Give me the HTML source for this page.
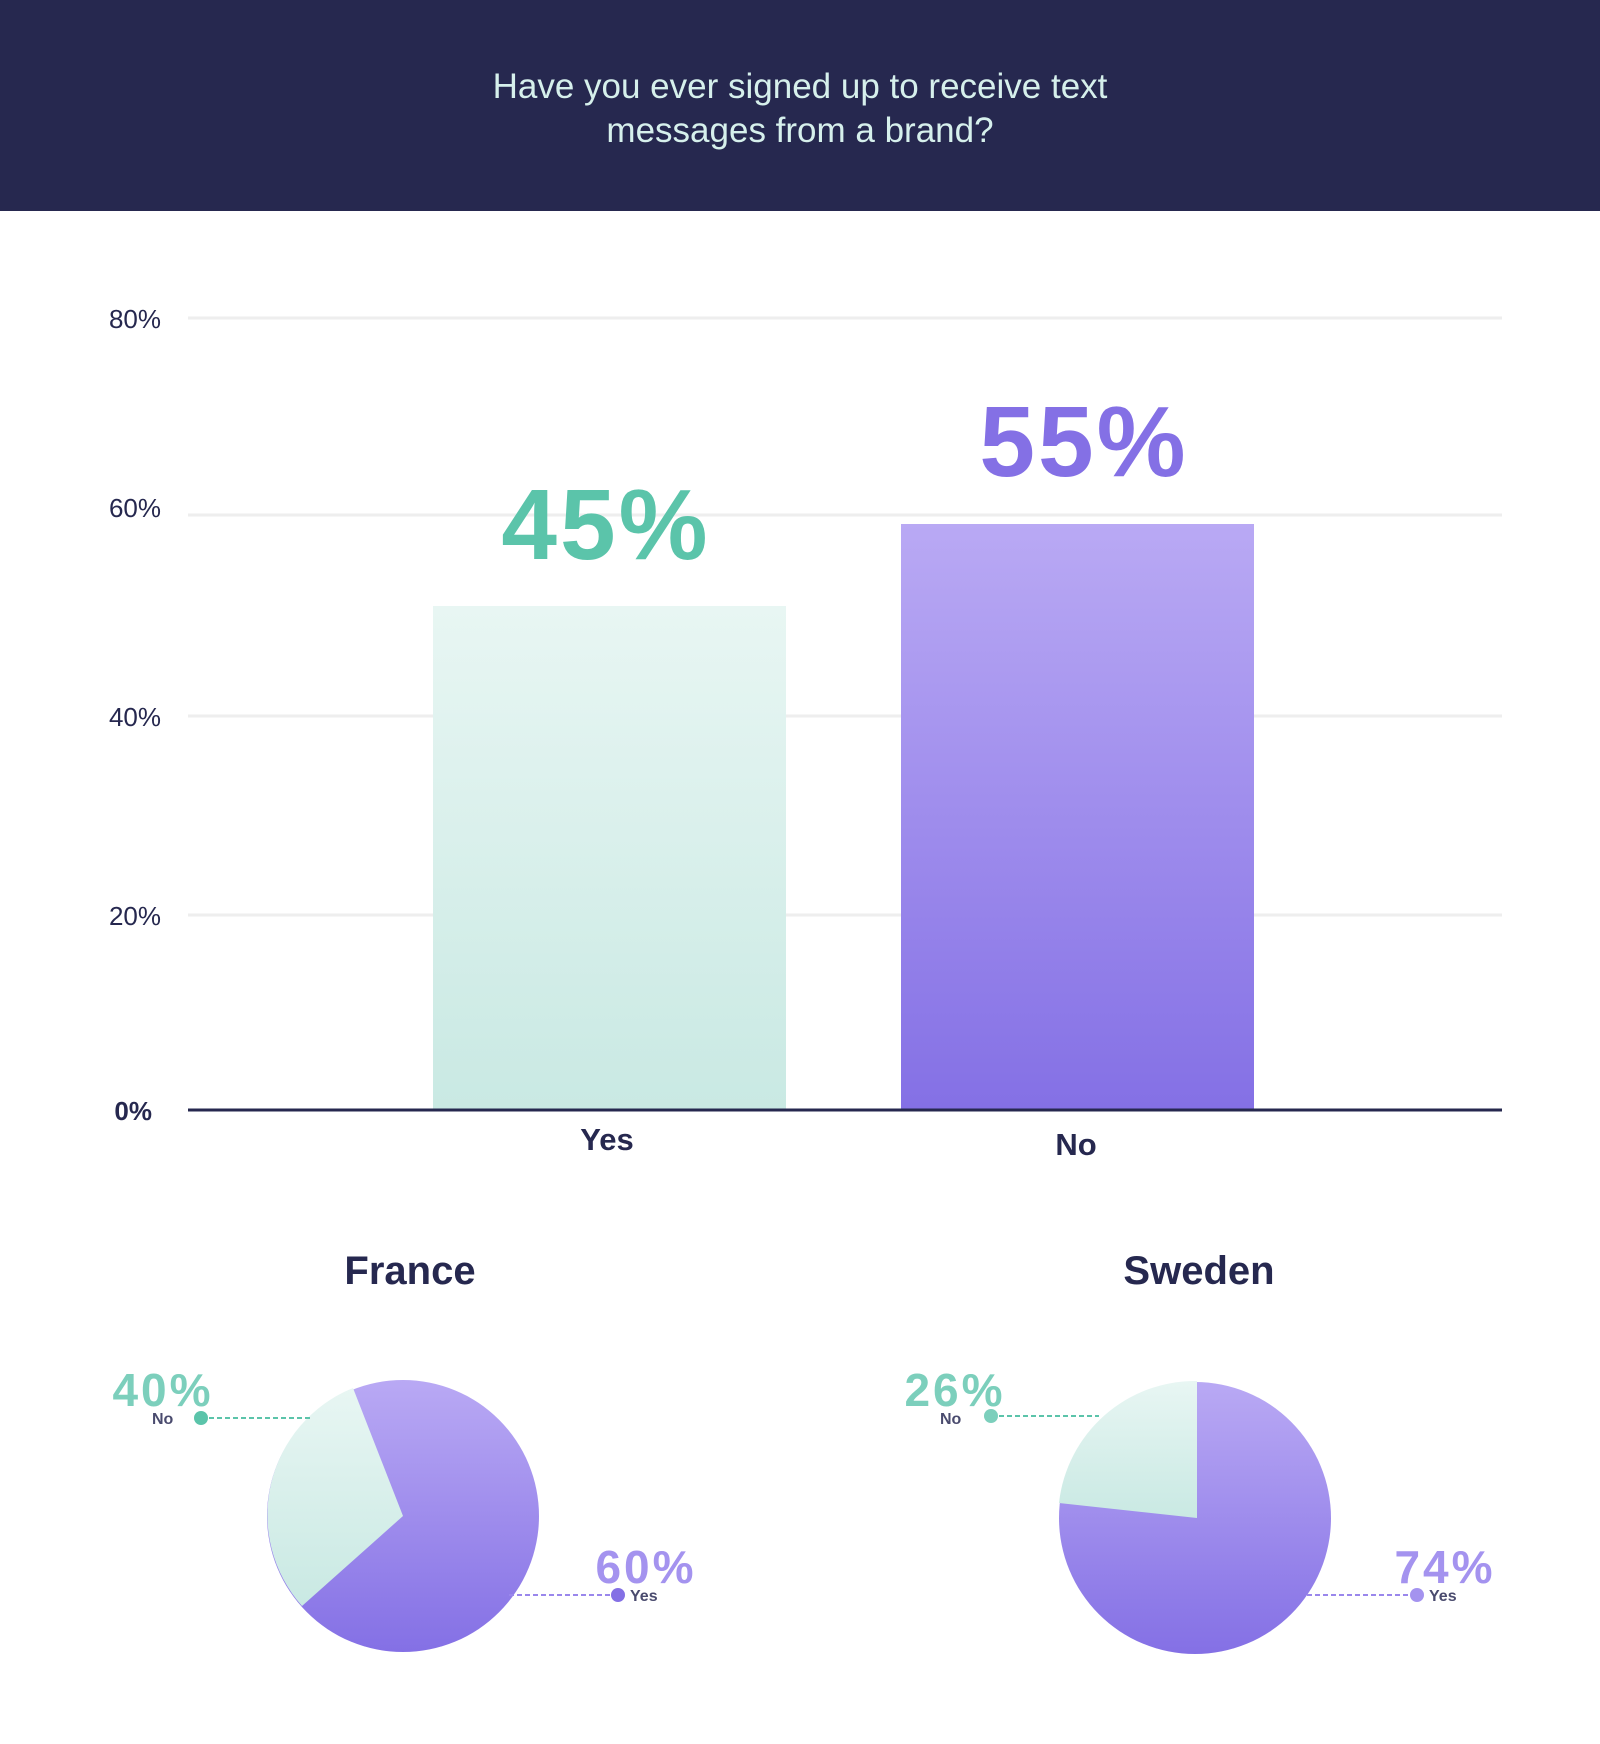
<!DOCTYPE html>
<html><head><meta charset="utf-8"><style>
body{margin:0;width:1600px;height:1744px;background:#fff;font-family:"Liberation Sans",sans-serif;position:relative;overflow:hidden}
.hdr{position:absolute;left:0;top:0;width:1600px;height:211px;background:#26284f}
svg{position:absolute;left:0;top:0}
</style></head><body>
<div class="hdr"></div>
<svg width="1600" height="1744" viewBox="0 0 1600 1744">
<defs>
<linearGradient id="pur" x1="0" y1="0" x2="0" y2="1"><stop offset="0" stop-color="#b9a9f4"/><stop offset="1" stop-color="#8470e5"/></linearGradient>
<linearGradient id="mint" x1="0" y1="0" x2="0" y2="1"><stop offset="0" stop-color="#e8f6f3"/><stop offset="1" stop-color="#c9e9e3"/></linearGradient>
</defs>
<g font-family="Liberation Sans, sans-serif" fill="#d6f0ec" font-size="35" text-anchor="middle">
<text x="800" y="98">Have you ever signed up to receive text</text>
<text x="800" y="142">messages from a brand?</text>
</g>
<g stroke="#eeeeee" stroke-width="3">
<line x1="188" y1="318" x2="1502" y2="318"/><line x1="188" y1="515" x2="1502" y2="515"/>
<line x1="188" y1="716" x2="1502" y2="716"/><line x1="188" y1="915" x2="1502" y2="915"/>
</g>
<g font-size="26" fill="#26284f" text-anchor="end">
<text x="161" y="328">80%</text><text x="161" y="517">60%</text><text x="161" y="726">40%</text><text x="161" y="925">20%</text><text x="152" y="1120" font-weight="bold">0%</text>
</g>
<rect x="433" y="606" width="353" height="504" fill="url(#mint)"/>
<rect x="901" y="524" width="353" height="586" fill="url(#pur)"/>
<line x1="188" y1="1110" x2="1502" y2="1110" stroke="#26284f" stroke-width="3"/>
<text x="606" y="559" font-size="100" font-weight="bold" fill="#5bc4aa" text-anchor="middle" letter-spacing="3">45%</text>
<text x="1084" y="476" font-size="100" font-weight="bold" fill="#8470e5" text-anchor="middle" letter-spacing="3">55%</text>
<g font-size="31" font-weight="bold" fill="#26284f" text-anchor="middle">
<text x="607" y="1150">Yes</text><text x="1076" y="1155">No</text>
<text x="410" y="1284" font-size="40">France</text><text x="1199" y="1284" font-size="40">Sweden</text>
</g>
<circle cx="403" cy="1516" r="136" fill="url(#pur)"/>
<path d="M403 1516 L302 1606 A137 137 0 0 1 353 1388 Z" fill="url(#mint)"/>
<circle cx="1195" cy="1518" r="136" fill="url(#pur)"/>
<path d="M1197 1518 L1059 1503 A137 137 0 0 1 1197 1381 Z" fill="url(#mint)"/>
<g stroke-dasharray="5 3" stroke-width="2">
<line x1="201" y1="1418" x2="311" y2="1418" stroke="#5bc4aa"/>
<line x1="509" y1="1595" x2="618" y2="1595" stroke="#9a87ec"/>
<line x1="991" y1="1416" x2="1099" y2="1416" stroke="#5bc4aa"/>
<line x1="1307" y1="1595" x2="1417" y2="1595" stroke="#9a87ec"/>
</g>
<circle cx="201" cy="1418" r="7" fill="#5bc4aa"/><circle cx="618" cy="1595" r="7" fill="#8470e5"/>
<circle cx="991" cy="1416" r="7" fill="#7ccfbc"/><circle cx="1417" cy="1595" r="7" fill="#a493ef"/>
<g font-size="46" font-weight="bold" text-anchor="middle" letter-spacing="3">
<text x="163" y="1406" fill="#7ccfbc">40%</text><text x="646" y="1583" fill="#a493ef">60%</text>
<text x="955" y="1406" fill="#7ccfbc">26%</text><text x="1445" y="1583" fill="#a493ef">74%</text>
</g>
<g font-size="16" font-weight="bold" fill="#4a4b6e">
<text x="152" y="1424">No</text><text x="630" y="1601">Yes</text>
<text x="940" y="1424">No</text><text x="1429" y="1601">Yes</text>
</g>
</svg>
</body></html>
